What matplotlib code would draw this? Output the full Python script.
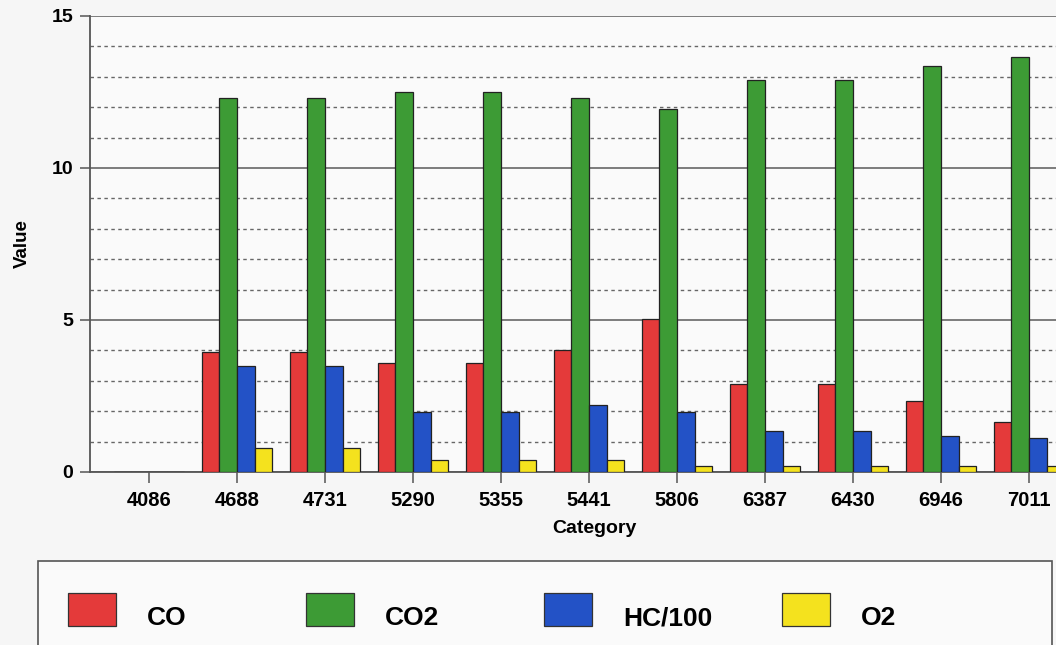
import matplotlib
matplotlib.use("Agg")
import matplotlib.pyplot as plt
import numpy as np
from matplotlib.patches import Rectangle
from matplotlib.ticker import MultipleLocator

plt.rcParams['font.family'] = ['Liberation Sans', 'DejaVu Sans']

categories = ["4086", "4688", "4731", "5290", "5355", "5441", "5806", "6387", "6430", "6946", "7011"]
co = [0, 3.95, 3.95, 3.6, 3.6, 4.0, 5.03, 2.9, 2.9, 2.35, 1.65]
co2 = [0, 12.3, 12.3, 12.5, 12.5, 12.3, 11.95, 12.9, 12.9, 13.35, 13.65]
hc100 = [0, 3.5, 3.5, 1.98, 1.98, 2.2, 1.98, 1.35, 1.35, 1.2, 1.13]
o2 = [0, 0.8, 0.8, 0.4, 0.4, 0.4, 0.2, 0.2, 0.2, 0.2, 0.2]

names = ["CO", "CO2", "HC/100", "O2"]
colors = ["#e43a3a", "#3d9b35", "#2352c6", "#f4e21e"]
values = [co, co2, hc100, o2]

W, H = 1056, 645
fig = plt.figure(figsize=(W / 100, H / 100), dpi=100, facecolor="#f6f6f6")
ax = fig.add_axes([90 / W, 1 - 472 / H, 1 - 90 / W, (472 - 16) / H])
ax.set_facecolor("#fafafa")

x = np.arange(len(categories))
w = 0.2
for i, (vals, col) in enumerate(zip(values, colors)):
    ax.bar(x + (i - 1.5) * w, vals, width=w, color=col, edgecolor="#222222",
           linewidth=0.9, zorder=3)

# category spacing ~88 px, first group at ~149 px
ax.set_xlim(-(149 - 90) / 88, (W - 149) / 88)
ax.set_ylim(0, 15)
ax.yaxis.set_major_locator(MultipleLocator(5))
ax.yaxis.set_minor_locator(MultipleLocator(1))
ax.grid(axis="y", which="major", color="#5a5a5a", linewidth=1.1, zorder=1)
ax.grid(axis="y", which="minor", color="#666666", linewidth=1.0, linestyle=(0, (2.5, 2.5)), zorder=1)
ax.tick_params(axis="y", which="minor", length=0)
ax.tick_params(axis="y", which="major", length=7.2, width=1.1, color="#555555", labelsize=14, pad=5)
ax.tick_params(axis="x", length=8, width=1.1, color="#555555", labelsize=14.5, pad=6)

ax.set_xticks(x)
ax.set_xticklabels(categories, fontweight="bold")
for lab in ax.get_yticklabels():
    lab.set_fontweight("bold")

for s in ["top", "right"]:
    ax.spines[s].set_visible(False)
for s in ["left", "bottom"]:
    ax.spines[s].set_color("#555555")
    ax.spines[s].set_linewidth(1.3)

ax.set_xlabel("Category", fontsize=14, fontweight="bold")
ax.xaxis.set_label_coords((594 - 90) / (W - 90), -0.106)
ax.set_ylabel("Value", fontsize=13.5, fontweight="bold")
ax.yaxis.set_label_coords(-(90 - 31) / (W - 90), 0.5)

# legend box laid out as four equal columns
fig.add_artist(Rectangle((38 / W, 1 - 646 / H), (1052 - 38) / W, 85 / H,
                         transform=fig.transFigure, facecolor="#fafafa",
                         edgecolor="#555555", linewidth=1.2))
for i, (name, col) in enumerate(zip(names, colors)):
    x0 = 68 + 238 * i
    fig.add_artist(Rectangle((x0 / W, 1 - 626 / H), 48 / W, 33 / H,
                             transform=fig.transFigure, facecolor=col,
                             edgecolor="#333333", linewidth=0.9))
    fig.text((x0 + 79) / W, 1 - 625 / H, name, fontsize=19, fontweight="bold",
             va="baseline", ha="left")

fig.savefig("out.png", dpi=100, facecolor=fig.get_facecolor())
